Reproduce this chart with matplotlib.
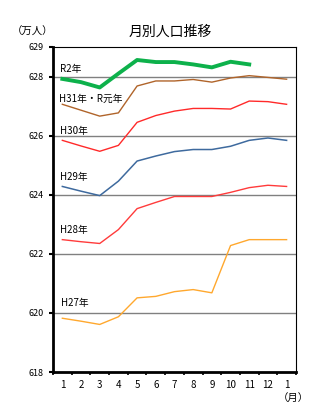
import matplotlib.pyplot as plt
import numpy as np

plt.rcParams['font.family'] = ['Noto Sans CJK JP', 'DejaVu Sans']

# DATA
months = ["1", "2", "3", "4", "5", "6", "7", "8", "9", "10", "11", "12", "1"]

r2 = [627.92, 627.81, 627.63, 628.10, 628.56, 628.49, 628.49, 628.41, 628.31, 628.50, 628.41]
h31 = [627.06, 626.86, 626.66, 626.77, 627.68, 627.85, 627.85, 627.90, 627.81, 627.95, 628.03, 627.97, 627.91]
h30 = [625.84, 625.65, 625.47, 625.67, 626.45, 626.68, 626.83, 626.92, 626.92, 626.90, 627.17, 627.15, 627.06]
h29 = [624.28, 624.12, 623.97, 624.46, 625.14, 625.31, 625.46, 625.53, 625.53, 625.64, 625.84, 625.92, 625.84]
h28 = [622.48, 622.41, 622.35, 622.82, 623.53, 623.74, 623.94, 623.94, 623.94, 624.08, 624.24, 624.32, 624.28]
h27 = [619.82, 619.72, 619.61, 619.87, 620.51, 620.56, 620.72, 620.79, 620.68, 622.28, 622.48, 622.48, 622.48]

yticks = [618, 620, 622, 624, 626, 628, 629]
gridlines = [620, 622, 624, 626, 628]

fig = plt.figure(figsize=(3.22, 4.18), dpi=100)
ax = fig.add_axes([0.1646, 0.110, 0.7545, 0.7776])

for g in gridlines:
    ax.axhline(g, color='#808080', lw=1.0, zorder=1)

x = np.arange(len(months))
ax.plot(x, h27, color='#FFA82E', lw=1.0, zorder=3)
ax.plot(x, h28, color='#FF3B3B', lw=1.0, zorder=3)
ax.plot(x, h29, color='#3E6A9E', lw=1.1, zorder=3)
ax.plot(x, h30, color='#FF2A2A', lw=1.0, zorder=3)
ax.plot(x, h31, color='#B0642A', lw=1.0, zorder=3)
ax.plot(x[:len(r2)], r2, color='#0DB14B', lw=2.8, zorder=4)

ax.set_xlim(-0.5, 12.5)
ax.set_ylim(618, 629)
ax.set_yticks(yticks)
ax.set_yticklabels([str(t) for t in yticks], fontsize=6.5)
ax.set_xticks(x)
ax.set_xticklabels(months, fontsize=7)
ax.set_xticks(np.arange(-0.5, 13, 1), minor=True)
ax.tick_params(axis='x', which='major', length=0, pad=6)
ax.tick_params(axis='x', which='minor', length=2.5, width=1.2, direction='out')
ax.tick_params(axis='y', length=3, width=1.5, direction='out', pad=4)

ax.spines['left'].set_linewidth(2.0)
ax.spines['bottom'].set_linewidth(2.0)
ax.spines['top'].set_linewidth(0.8)
ax.spines['right'].set_linewidth(0.8)

# series labels
lab = dict(fontsize=7, ha='left', va='bottom', zorder=5)
ax.text(-0.1, 628.08, "R2年", **lab)
ax.text(-0.2, 627.08, "H31年・R元年", **lab)
ax.text(-0.15, 626.0, "H30年", **lab)
ax.text(-0.1, 624.42, "H29年", **lab)
ax.text(-0.15, 622.65, "H28年", **lab)
ax.text(-0.05, 620.15, "H27年", **lab)

fig.text(0.53, 0.925, "月別人口推移", fontsize=10, ha='center', va='center')
fig.text(0.035, 0.925, "（万人）", fontsize=7.5, ha='left', va='center')
fig.text(0.96, 0.048, "（月）", fontsize=7.5, ha='right', va='center')

fig.savefig("out.png", dpi=100)
